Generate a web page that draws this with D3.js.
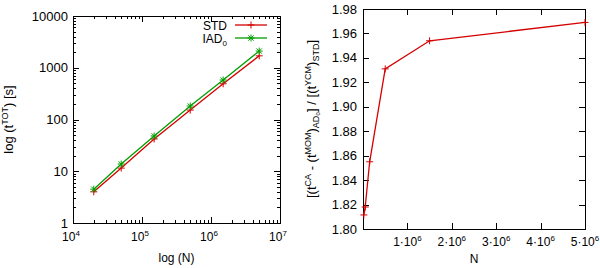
<!DOCTYPE html>
<html>
<head>
<meta charset="utf-8">
<script src="https://cdnjs.cloudflare.com/ajax/libs/d3/7.8.5/d3.min.js"></script>
<style>
  body { margin: 0; background: #fff; }
  svg text { font-family: "Liberation Sans", Arial, sans-serif; fill: #000; }
</style>
</head>
<body>
<div id="chart"></div>
<script>
// Data
var nValues = [2e4, 5e4, 1.5e5, 5e5, 1.5e6, 5e6];
var tStd = [4.0, 11.5, 42, 152, 490, 1700];
var tIad = [4.5, 13.8, 48, 182, 580, 2100];
var ratio = [1.8115, 1.818, 1.855, 1.931, 1.954, 1.969];

var logXTicks = [1e4, 1e5, 1e6, 1e7];
var logYTicks = [1, 10, 100, 1000, 10000];
var linXTicks = [1e6, 2e6, 3e6, 4e6, 5e6];
var linYTicks = [1.80, 1.82, 1.84, 1.86, 1.88, 1.90, 1.92, 1.94, 1.96, 1.98];

var red = "#d40000";
var green = "#009e00";

var svg = d3.select("#chart").append("svg")
    .attr("width", 600)
    .attr("height", 268);

// draws a "+" point
function plusPath(s) {
	return "M" + (-s) + ",0H" + s + "M0," + (-s) + "V" + s;
}
// star point (+ and x)
function starPath(s) {
	var d = s * 0.75;
	return plusPath(s) + "M" + (-d) + "," + (-d) + "L" + d + "," + d + "M" + (-d) + "," + d + "L" + d + "," + (-d);
}

// ---------- left panel ----------
var L = {left: 73, right: 280, top: 16, bottom: 223};

var lx = d3.scaleLog().domain([1e4, 1e7]).range([L.left, L.right]);
var ly = d3.scaleLog().domain([1, 1e4]).range([L.bottom, L.top]);

var left = svg.append("g");

// minor ticks (log)
var minorX = [], minorY = [];
logXTicks.slice(0, -1).forEach(function(t) {
	for (var k = 2; k < 10; k++) minorX.push(t * k);
});
logYTicks.slice(0, -1).forEach(function(t) {
	for (var k = 2; k < 10; k++) minorY.push(t * k);
});

function tickLinesX(g, scale, vals, top, bottom, len) {
	g.selectAll(null).data(vals).enter().append("path")
		.attr("d", function(d) {
			var x = Math.round(scale(d)) + 0.5;
			return "M" + x + "," + bottom + "V" + (bottom - len) + "M" + x + "," + top + "V" + (top + len);
		})
		.attr("stroke", "#000").attr("stroke-width", 1).attr("fill", "none");
}
function tickLinesY(g, scale, vals, lft, rgt, len) {
	g.selectAll(null).data(vals).enter().append("path")
		.attr("d", function(d) {
			var y = Math.round(scale(d)) + 0.5;
			return "M" + lft + "," + y + "H" + (lft + len) + "M" + rgt + "," + y + "H" + (rgt - len);
		})
		.attr("stroke", "#000").attr("stroke-width", 1).attr("fill", "none");
}

tickLinesX(left, lx, logXTicks.slice(1, -1), L.top, L.bottom, 6);
tickLinesX(left, lx, minorX, L.top, L.bottom, 3);
tickLinesY(left, ly, logYTicks.slice(1, -1), L.left, L.right, 6);
tickLinesY(left, ly, minorY, L.left, L.right, 3);

left.append("rect")
	.attr("x", L.left + 0.5).attr("y", L.top + 0.5)
	.attr("width", L.right - L.left).attr("height", L.bottom - L.top)
	.attr("fill", "none").attr("stroke", "#000");

// y tick labels
left.selectAll(".ylab").data(logYTicks).enter().append("text")
	.attr("x", L.left - 5)
	.attr("y", function(d) { return ly(d) + 4.5; })
	.attr("text-anchor", "end")
	.style("font-size", "13px")
	.text(function(d) { return d; });

// x tick labels 10^k
var xl = left.selectAll(".xlab").data(logXTicks).enter().append("text")
	.attr("x", function(d) { return lx(d) - 2; })
	.attr("y", L.bottom + 18)
	.attr("text-anchor", "middle")
	.style("font-size", "12px");
xl.append("tspan").text("10");
xl.append("tspan").attr("dy", -5).style("font-size", "8px")
	.text(function(d) { return Math.round(Math.log10(d)); });

left.append("text")
	.attr("x", (L.left + L.right) / 2).attr("y", 262)
	.attr("text-anchor", "middle")
	.style("font-size", "12px")
	.text("log (N)");

var lyl = left.append("text")
	.attr("transform", "translate(13," + ((L.top + L.bottom) / 2) + ") rotate(-90)")
	.attr("text-anchor", "middle")
	.style("font-size", "13px");
lyl.append("tspan").text("log (t");
lyl.append("tspan").attr("dy", -5).style("font-size", "9px").text("TOT");
lyl.append("tspan").attr("dy", 5).text(") [s]");

var lineL = d3.line()
	.x(function(d) { return lx(d[0]); })
	.y(function(d) { return ly(d[1]); });

var seriesL = [
	{name: "STD", vals: tStd, color: red, shape: plusPath},
	{name: "IAD", vals: tIad, color: green, shape: starPath}
];

seriesL.forEach(function(s) {
	var pts = nValues.map(function(n, i) { return [n, s.vals[i]]; });
	left.append("path")
		.datum(pts)
		.attr("d", lineL)
		.attr("fill", "none")
		.attr("stroke", s.color)
		.attr("stroke-width", 1.3);
	left.selectAll(null).data(pts).enter().append("path")
		.attr("transform", function(d) { return "translate(" + lx(d[0]) + "," + ly(d[1]) + ")"; })
		.attr("d", s.shape(3.5))
		.attr("stroke", s.color)
		.attr("stroke-width", 1)
		.attr("fill", "none");
});

// legend
var legendY = [25, 38];
seriesL.forEach(function(s, i) {
	var t = left.append("text")
		.attr("x", 227).attr("y", legendY[i] + 4.5)
		.attr("text-anchor", "end")
		.style("font-size", "12px");
	if (i === 0) {
		t.text("STD");
	} else {
		t.append("tspan").text("IAD");
		t.append("tspan").attr("dy", 3).style("font-size", "8px").text("0");
	}
	left.append("line")
		.attr("x1", 235).attr("x2", 267)
		.attr("y1", legendY[i]).attr("y2", legendY[i])
		.attr("stroke", s.color).attr("stroke-width", 1.3);
	left.append("path")
		.attr("transform", "translate(251," + legendY[i] + ")")
		.attr("d", s.shape(3.5))
		.attr("stroke", s.color).attr("stroke-width", 1).attr("fill", "none");
});

// ---------- right panel ----------
var R = {left: 363, right: 585, top: 9, bottom: 229};

var rx = d3.scaleLinear().domain([0, 5e6]).range([R.left, R.right]);
var ry = d3.scaleLinear().domain([1.80, 1.98]).range([R.bottom, R.top]);

var right = svg.append("g");

tickLinesX(right, rx, linXTicks.slice(0, -1), R.top, R.bottom, 6);
tickLinesY(right, ry, linYTicks.slice(1, -1), R.left, R.right, 6);

right.append("rect")
	.attr("x", R.left + 0.5).attr("y", R.top + 0.5)
	.attr("width", R.right - R.left).attr("height", R.bottom - R.top)
	.attr("fill", "none").attr("stroke", "#000");

right.selectAll(".ylab").data(linYTicks).enter().append("text")
	.attr("x", R.left - 6)
	.attr("y", function(d) { return ry(d) + 4.5; })
	.attr("text-anchor", "end")
	.style("font-size", "13px")
	.text(function(d) { return d.toFixed(2); });

var rxl = right.selectAll(".xlab").data(linXTicks).enter().append("text")
	.attr("x", function(d) { return rx(d); })
	.attr("y", R.bottom + 17)
	.attr("text-anchor", "middle")
	.style("font-size", "12px");
rxl.append("tspan").text(function(d) { return (d / 1e6) + "\u00b710"; });
rxl.append("tspan").attr("dy", -5).style("font-size", "8px").text("6");

right.append("text")
	.attr("x", (R.left + R.right) / 2).attr("y", 263)
	.attr("text-anchor", "middle")
	.style("font-size", "12px")
	.text("N");

var ryl = right.append("text")
	.attr("transform", "translate(316," + ((R.top + R.bottom) / 2) + ") rotate(-90)")
	.attr("text-anchor", "middle")
	.style("font-size", "13px");
ryl.append("tspan").text("[(t");
ryl.append("tspan").attr("dy", -5).style("font-size", "9px").text("CA");
ryl.append("tspan").attr("dy", 5).text(" - (t");
ryl.append("tspan").attr("dy", -5).style("font-size", "9px").text("MOM");
ryl.append("tspan").attr("dy", 5).text(")");
ryl.append("tspan").attr("dy", 3).style("font-size", "9px").text("AD\u2080");
ryl.append("tspan").attr("dy", -3).text("] / [(t");
ryl.append("tspan").attr("dy", -5).style("font-size", "9px").text("YCM");
ryl.append("tspan").attr("dy", 5).text(")");
ryl.append("tspan").attr("dy", 3).style("font-size", "9px").text("STD");
ryl.append("tspan").attr("dy", -3).text("]");

var ptsR = nValues.map(function(n, i) { return [n, ratio[i]]; });
right.append("path")
	.datum(ptsR)
	.attr("d", d3.line()
		.x(function(d) { return rx(d[0]); })
		.y(function(d) { return ry(d[1]); }))
	.attr("fill", "none")
	.attr("stroke", red)
	.attr("stroke-width", 1.3);
right.selectAll(null).data(ptsR).enter().append("path")
	.attr("transform", function(d) { return "translate(" + rx(d[0]) + "," + ry(d[1]) + ")"; })
	.attr("d", plusPath(3.5))
	.attr("stroke", red).attr("stroke-width", 1).attr("fill", "none");
</script>
</body>
</html>
